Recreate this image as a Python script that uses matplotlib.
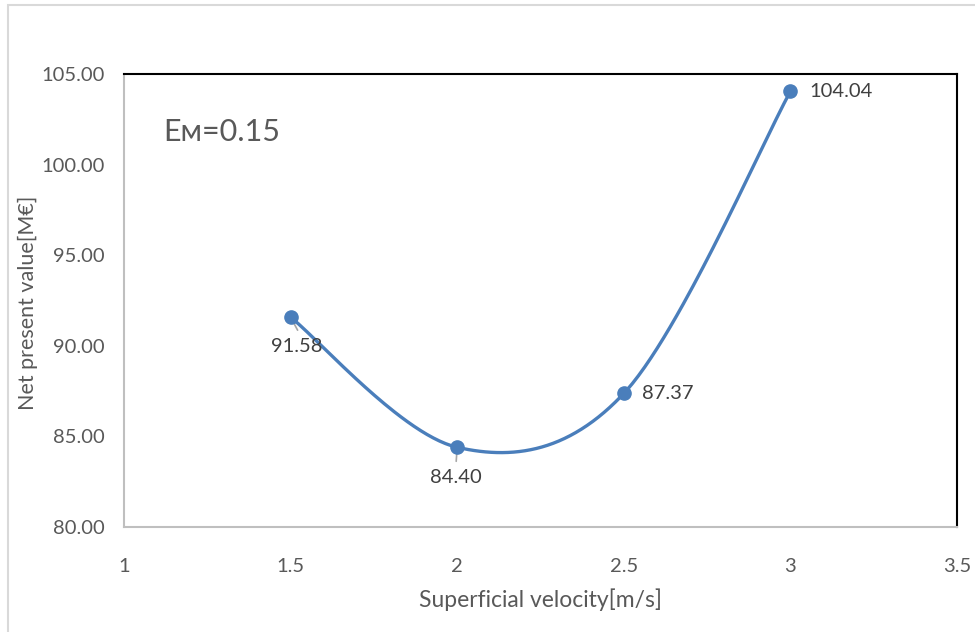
import numpy as np
import matplotlib
matplotlib.use("Agg")
import matplotlib.pyplot as plt
from matplotlib.patches import Rectangle

plt.rcParams['font.family'] = ['Lato', 'DejaVu Sans']

velocity = [1.5, 2.0, 2.5, 3.0]
npv = [91.58, 84.40, 87.37, 104.04]
labels = ["91.58", "84.40", "87.37", "104.04"]
xticks = [1, 1.5, 2, 2.5, 3, 3.5]
yticks = [80, 85, 90, 95, 100, 105]

XLIM = (1, 3.5)
YLIM = (80, 105)

fig = plt.figure(figsize=(9.75, 6.32), dpi=100)
ax = fig.add_axes([0.1272, 0.1661, 0.8543, 0.7168])
ax.set_xlim(*XLIM)
ax.set_ylim(*YLIM)

# Excel-like smoothing (Bezier with Catmull-Rom tangents) computed in display-normalized space
W, H = 833.0, 453.0
px = (np.array(velocity) - XLIM[0]) / (XLIM[1] - XLIM[0]) * W
py = (np.array(npv) - YLIM[0]) / (YLIM[1] - YLIM[0]) * H
P = np.column_stack([px, py])
n = len(P)
curve = []
t = np.linspace(0, 1, 60)
for i in range(n - 1):
    p0 = P[i - 1] if i > 0 else P[i]
    p1 = P[i]
    p2 = P[i + 1]
    p3 = P[i + 2] if i + 2 < n else P[i + 1]
    c1 = p1 + (p2 - p0) / 6.0
    c2 = p2 - (p3 - p1) / 6.0
    seg = ((1 - t)[:, None] ** 3 * p1 + 3 * (1 - t)[:, None] ** 2 * t[:, None] * c1
           + 3 * (1 - t)[:, None] * t[:, None] ** 2 * c2 + t[:, None] ** 3 * p2)
    curve.append(seg)
curve = np.vstack(curve)
cx = curve[:, 0] / W * (XLIM[1] - XLIM[0]) + XLIM[0]
cy = curve[:, 1] / H * (YLIM[1] - YLIM[0]) + YLIM[0]

blue = '#4a7ebb'
ax.plot(cx, cy, color=blue, lw=2.4, solid_capstyle='round', zorder=3)
ax.plot(velocity, npv, 'o', color=blue, ms=9.5, zorder=4)

txtc = '#404040'
# data labels
offsets = [(6, -21, 'center', 'top'), (-1, -22, 'center', 'top'),
           (18, 0, 'left', 'center'), (19, 0, 'left', 'center')]
for (x, y, lab, (dx, dy, ha, va)) in zip(velocity, npv, labels, offsets):
    ax.annotate(lab, (x, y), xytext=(dx, dy), textcoords='offset pixels',
                ha=ha, va=va, fontsize=14.5, color=txtc, zorder=5)
# leader lines for the two labels below points
for (x, y, dx, dy) in [(velocity[0], npv[0], 7, -13), (velocity[1], npv[1], -1, -14)]:
    ax.annotate('', (x, y), xytext=(dx, dy), textcoords='offset pixels',
                arrowprops=dict(arrowstyle='-', color='#a6a6a6', lw=1.2,
                                shrinkA=0, shrinkB=2), zorder=2)

ax.set_xticks(xticks)
ax.set_xticklabels([f"{v:g}" for v in xticks])
ax.set_yticks(yticks)
ax.set_yticklabels([f"{v:.2f}" for v in yticks])
ax.tick_params(length=0, labelsize=14.5, colors='#595959')
ax.tick_params(axis='x', pad=22)
ax.tick_params(axis='y', pad=14)

for s in ['top', 'right']:
    ax.spines[s].set_color('black')
    ax.spines[s].set_linewidth(1.5)
for s in ['left', 'bottom']:
    ax.spines[s].set_color('#bfbfbf')
    ax.spines[s].set_linewidth(1.5)

ax.set_xlabel('Superficial velocity[m/s]', fontsize=16.5, color='#595959', labelpad=10)
ax.set_ylabel('Net present value[M€]', fontsize=15.5, color='#595959')
ax.yaxis.set_label_coords(-0.1153, 0.495)
ax.yaxis.label.set_va('center')

ax.text(0.047, 0.872, 'Eᴍ=0.15', transform=ax.transAxes, fontsize=22,
        color='#595959', ha='left', va='center')

# chart area border
fig.patches.append(Rectangle((8 / 975, -0.1), 1.2, 0.1 + (632 - 5) / 632, transform=fig.transFigure,
                             fill=False, edgecolor='#d9d9d9', lw=1.5))

fig.savefig('out.png', dpi=100)
